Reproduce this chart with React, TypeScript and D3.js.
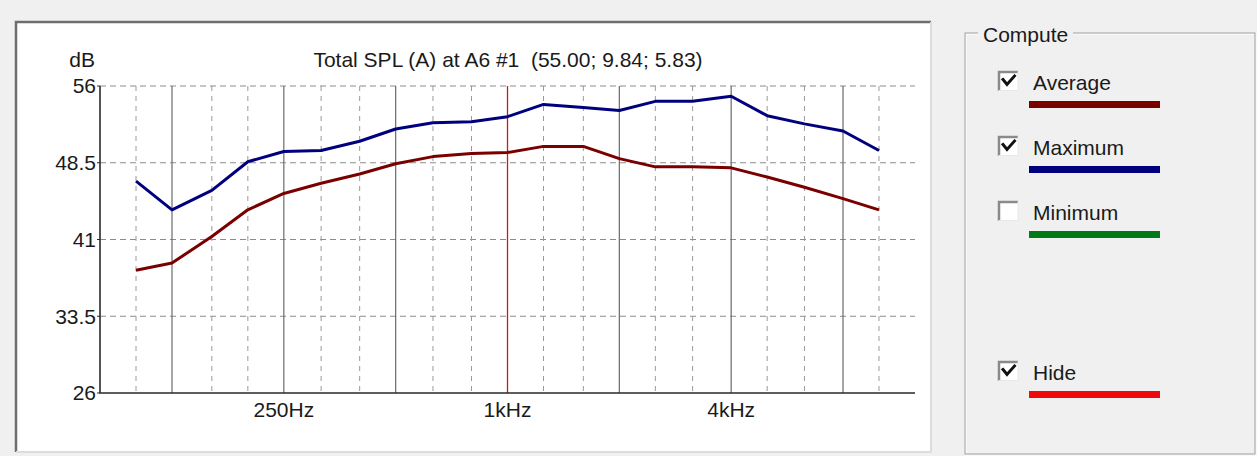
import { useEffect, useRef } from "react";
import * as d3 from "d3";

// third-octave band centres (Hz)
const bands = [100, 125, 160, 200, 250, 315, 400, 500, 630, 800, 1000, 1250, 1600, 2000, 2500, 3150, 4000, 5000, 6300, 8000, 10000];
const maximum = [46.7, 43.9, 45.8, 48.6, 49.6, 49.7, 50.6, 51.8, 52.4, 52.5, 53.0, 54.2, 53.9, 53.6, 54.5, 54.5, 55.0, 53.1, 52.3, 51.6, 49.7];
const average = [38.0, 38.7, 41.3, 43.9, 45.5, 46.5, 47.4, 48.4, 49.1, 49.4, 49.5, 50.1, 50.1, 48.9, 48.1, 48.1, 48.0, 47.1, 46.1, 45.0, 43.9];

const octaves = [125, 250, 500, 1000, 2000, 4000, 8000];
const yTicks = [26, 33.5, 41, 48.5, 56];
const xLabels = [
  { f: 250, text: "250Hz" },
  { f: 1000, text: "1kHz" },
  { f: 4000, text: "4kHz" },
];
const cursorFreq = 1000;
const title = "Total SPL (A) at A6 #1  (55.00; 9.84; 5.83)";

const legendItems = [
  { label: "Average", color: "#7a0000", checked: true, offset: 0 },
  { label: "Maximum", color: "#00007e", checked: true, offset: 65 },
  { label: "Minimum", color: "#007a16", checked: false, offset: 130 },
  { label: "Hide", color: "#ee0a0a", checked: true, offset: 290 },
];

const W = 1257;
const H = 456;
const FONT = "'Liberation Sans', Arial, sans-serif";

export default function App() {
  const svgRef = useRef<SVGSVGElement | null>(null);

  useEffect(() => {
    if (!svgRef.current) return;
    const svg = d3.select(svgRef.current);
    svg.selectAll("*").remove();

    svg.append("rect").attr("width", W).attr("height", H).attr("fill", "#f0f0f0");

    // chart panel (sunken)
    const panel = { x: 16, y: 22, w: 915, h: 430 };
    svg.append("rect")
      .attr("x", panel.x).attr("y", panel.y)
      .attr("width", panel.w).attr("height", panel.h)
      .attr("fill", "#ffffff");
    svg.append("path")
      .attr("d", `M${panel.x},${panel.y + panel.h} V${panel.y} H${panel.x + panel.w}`)
      .attr("fill", "none").attr("stroke", "#6e6e6e").attr("stroke-width", 2.5);
    svg.append("path")
      .attr("d", `M${panel.x + panel.w},${panel.y} V${panel.y + panel.h} H${panel.x}`)
      .attr("fill", "none").attr("stroke", "#dcdcdc").attr("stroke-width", 2);

    const x = d3.scaleLog().domain([80, 12500]).range([100, 915]);
    const y = d3.scaleLinear().domain([26, 56]).range([393, 86]);
    const [y0, y1] = y.range();

    const g = svg.append("g");

    // horizontal dashed grid
    g.selectAll(".hgrid")
      .data(yTicks.filter((t) => t !== 26))
      .join("line")
      .attr("x1", x(80)).attr("x2", x(12500))
      .attr("y1", (d) => y(d)).attr("y2", (d) => y(d))
      .attr("stroke", "#8c8c8c").attr("stroke-dasharray", "6,4");

    // vertical dashed grid (third octaves)
    g.selectAll(".vdash")
      .data(bands.filter((f) => !octaves.includes(f)))
      .join("line")
      .attr("x1", (d) => x(d)).attr("x2", (d) => x(d))
      .attr("y1", y1).attr("y2", y0)
      .attr("stroke", "#9a9a9a").attr("stroke-dasharray", "5,5");

    // octave solid lines
    g.selectAll(".vsolid")
      .data(octaves.filter((f) => f !== cursorFreq))
      .join("line")
      .attr("x1", (d) => x(d)).attr("x2", (d) => x(d))
      .attr("y1", y1).attr("y2", y0)
      .attr("stroke", "#6a6a6a").attr("stroke-width", 1.2);

    // cursor
    g.append("line")
      .attr("x1", x(cursorFreq)).attr("x2", x(cursorFreq))
      .attr("y1", y1).attr("y2", y0)
      .attr("stroke", "#d01818").attr("stroke-width", 1.3);

    // axes
    g.append("path")
      .attr("d", `M${x(80)},${y1} V${y0} H${x(12500)}`)
      .attr("fill", "none").attr("stroke", "#2a2a2a").attr("stroke-width", 1.6);
    g.selectAll(".ytick")
      .data(yTicks)
      .join("line")
      .attr("x1", x(80) - 3).attr("x2", x(80))
      .attr("y1", (d) => y(d)).attr("y2", (d) => y(d))
      .attr("stroke", "#2a2a2a");

    g.selectAll(".ylab")
      .data(yTicks)
      .join("text")
      .attr("x", 96).attr("y", (d) => y(d)).attr("dy", "0.35em")
      .attr("text-anchor", "end")
      .attr("font-family", FONT).attr("font-size", 21).attr("fill", "#1a1a1a")
      .text((d) => String(d));

    g.append("text")
      .attr("x", 95).attr("y", 67).attr("text-anchor", "end")
      .attr("font-family", FONT).attr("font-size", 21).attr("fill", "#1a1a1a")
      .text("dB");

    g.selectAll(".xlab")
      .data(xLabels)
      .join("text")
      .attr("x", (d) => x(d.f)).attr("y", 417)
      .attr("text-anchor", "middle")
      .attr("font-family", FONT).attr("font-size", 21).attr("fill", "#1a1a1a")
      .text((d) => d.text);

    g.append("text")
      .attr("x", 508).attr("y", 67).attr("text-anchor", "middle")
      .attr("font-family", FONT).attr("font-size", 21).attr("fill", "#1a1a1a")
      .style("white-space", "pre")
      .text(title);

    // curves
    const line = d3.line<number>()
      .x((_d, i) => x(bands[i]))
      .y((d) => y(d));

    g.append("path").datum(average)
      .attr("d", line).attr("fill", "none")
      .attr("stroke", "#7a0000").attr("stroke-width", 3).attr("stroke-linejoin", "round");
    g.append("path").datum(maximum)
      .attr("d", line).attr("fill", "none")
      .attr("stroke", "#00007e").attr("stroke-width", 3).attr("stroke-linejoin", "round");

    // "Compute" group box
    const box = { x: 965, y: 33, w: 290, h: 421 };
    svg.append("rect")
      .attr("x", box.x + 1).attr("y", box.y + 1).attr("width", box.w).attr("height", box.h)
      .attr("fill", "none").attr("stroke", "#ffffff");
    svg.append("rect")
      .attr("x", box.x).attr("y", box.y).attr("width", box.w).attr("height", box.h)
      .attr("fill", "none").attr("stroke", "#a0a0a0");
    svg.append("rect")
      .attr("x", 978).attr("y", 26).attr("width", 95).attr("height", 14)
      .attr("fill", "#f0f0f0");
    svg.append("text")
      .attr("x", 983).attr("y", 42)
      .attr("font-family", FONT).attr("font-size", 21).attr("fill", "#1a1a1a")
      .text("Compute");

    const rows = svg.selectAll(".row")
      .data(legendItems)
      .join("g")
      .attr("transform", (d) => `translate(0,${d.offset})`);

    rows.append("rect")
      .attr("x", 998).attr("y", 71).attr("width", 20).attr("height", 20)
      .attr("fill", "#ffffff");
    rows.append("path")
      .attr("d", "M999,91 V72 H1018")
      .attr("fill", "none").attr("stroke", "#8a8a8a").attr("stroke-width", 2.5);
    rows.append("path")
      .attr("d", "M1018,71.5 V90.5 H998.5")
      .attr("fill", "none").attr("stroke", "#e8e8e8").attr("stroke-width", 1);
    rows.filter((d) => d.checked)
      .append("path")
      .attr("d", "M1003,79.5 L1007,84.5 L1014.5,76")
      .attr("fill", "none").attr("stroke", "#111").attr("stroke-width", 3)
      .attr("stroke-linecap", "square");

    rows.append("text")
      .attr("x", 1033).attr("y", 90)
      .attr("font-family", FONT).attr("font-size", 21).attr("fill", "#1a1a1a")
      .text((d) => d.label);

    rows.append("rect")
      .attr("x", 1029).attr("y", 101).attr("width", 131).attr("height", 7)
      .attr("fill", (d) => d.color);
  }, []);

  return (
    <svg
      ref={svgRef}
      width={W}
      height={H}
      style={{ position: "absolute", left: 0, top: 0, display: "block" }}
    />
  );
}
